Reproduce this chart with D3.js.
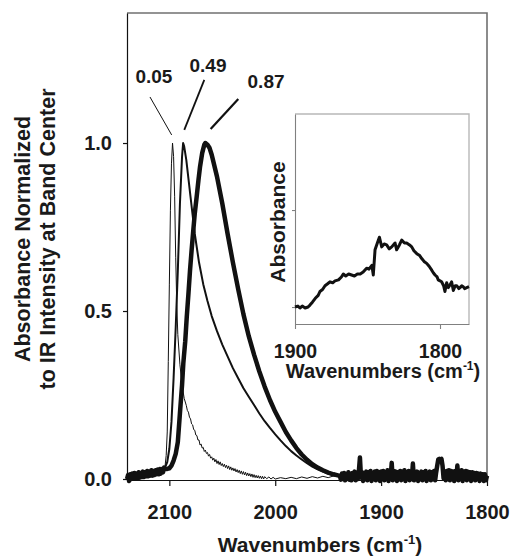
<!DOCTYPE html>
<html>
<head>
<meta charset="utf-8">
<script src="https://cdn.jsdelivr.net/npm/d3@7"></script>
<style>
  body { margin: 0; background: #fff; }
  svg { display: block; }
  text { font-family: "Liberation Sans", Arial, sans-serif; font-weight: bold; fill: #1a1a1a; }
</style>
</head>
<body>
<div id="chart"></div>
<script>
const width = 512;
const height = 556;

// main panel: normalized absorbance vs wavenumber (cm-1)
const xTicks = [2100, 2000, 1900, 1800];
const yTicks = [0, 0.5, 1.0];

// shared noisy baseline, high-wavenumber side
const headNoise = [
  [2140, 0.000], [2139, 0.012], [2138, -0.006], [2137, 0.014], [2136, 0.000], [2135, 0.016],
  [2134, 0.002], [2133, 0.018], [2132, 0.004], [2131, 0.016], [2130, 0.002], [2129, 0.020],
  [2128, 0.004], [2127, 0.018], [2126, 0.006], [2125, 0.022], [2124, 0.006], [2123, 0.020],
  [2122, 0.008], [2121, 0.024], [2120, 0.008], [2119, 0.022], [2118, 0.010], [2117, 0.026],
  [2116, 0.010], [2115, 0.024], [2114, 0.012], [2113, 0.026], [2112, 0.014], [2111, 0.028],
  [2110, 0.014], [2109, 0.030], [2108, 0.016], [2107, 0.030], [2106, 0.020], [2105, 0.034]
];

// shared noisy baseline, low-wavenumber side
const tailNoise = [
  [1939, 0.010], [1938, -0.002], [1937, 0.016], [1936, 0.000], [1935, 0.018], [1934, -0.004],
  [1933, 0.014], [1932, 0.002], [1931, 0.020], [1930, -0.002], [1929, 0.016], [1928, -0.004],
  [1927, 0.018], [1926, 0.002], [1925, 0.022], [1924, -0.004], [1923, 0.016], [1922, 0.000],
  [1921, 0.024], [1920, 0.064], [1919, 0.004], [1918, 0.020], [1917, -0.006], [1916, 0.018],
  [1915, 0.000], [1914, 0.022], [1913, -0.004], [1912, 0.020], [1911, 0.002], [1910, 0.024],
  [1909, -0.006], [1908, 0.018], [1907, 0.000], [1906, 0.022], [1905, -0.004], [1904, 0.024],
  [1903, 0.002], [1902, 0.020], [1901, -0.006], [1900, 0.022], [1899, 0.000], [1898, 0.024],
  [1897, -0.004], [1896, 0.018], [1895, 0.002], [1894, 0.026], [1893, -0.006], [1892, 0.022],
  [1891, 0.004], [1890, 0.048], [1889, -0.004], [1888, 0.024], [1887, 0.000], [1886, 0.022],
  [1885, -0.006], [1884, 0.020], [1883, 0.002], [1882, 0.024], [1881, -0.004], [1880, 0.022],
  [1879, 0.000], [1878, 0.026], [1877, -0.006], [1876, 0.020], [1875, 0.002], [1874, 0.024],
  [1873, -0.004], [1872, 0.022], [1871, 0.000], [1870, 0.046], [1869, -0.004], [1868, 0.020],
  [1867, 0.000], [1866, 0.022], [1865, -0.006], [1864, 0.018], [1863, 0.002], [1862, 0.022],
  [1861, -0.004], [1860, 0.020], [1859, 0.000], [1858, 0.024], [1857, -0.006], [1856, 0.018],
  [1855, 0.002], [1854, 0.022], [1853, -0.004], [1852, 0.020], [1851, 0.000], [1850, 0.024],
  [1849, -0.004], [1848, 0.020], [1847, 0.040], [1846, 0.058], [1845, 0.060], [1844, 0.058],
  [1843, 0.060], [1842, 0.040], [1841, 0.002], [1840, 0.022], [1839, -0.004], [1838, 0.024],
  [1837, 0.000], [1836, 0.026], [1835, -0.004], [1834, 0.024], [1833, 0.002], [1832, 0.022],
  [1831, -0.006], [1830, 0.024], [1829, 0.000], [1828, 0.040], [1827, -0.004], [1826, 0.024],
  [1825, 0.002], [1824, 0.026], [1823, -0.006], [1822, 0.022], [1821, 0.000], [1820, 0.024],
  [1819, -0.004], [1818, 0.022], [1817, 0.002], [1816, 0.020], [1815, -0.006], [1814, 0.020],
  [1813, 0.000], [1812, 0.018], [1811, -0.004], [1810, 0.018], [1809, 0.000], [1808, 0.016],
  [1807, -0.006], [1806, 0.016], [1805, 0.000], [1804, 0.014], [1803, -0.006], [1802, 0.014],
  [1801, -0.004], [1800, 0.010]
];

// coverage 0.05 (thin)
const band005 = [
  [2104, 0.040], [2103, 0.070], [2102, 0.140], [2101, 0.350], [2100, 0.580], [2099, 0.800],
  [2098, 0.940], [2097, 1.000], [2096, 0.960], [2095, 0.840], [2094, 0.660], [2093, 0.520],
  [2092, 0.430], [2090, 0.340], [2088, 0.280], [2086, 0.240],
  [2084, 0.219], [2083, 0.204], [2082, 0.199], [2081, 0.184], [2080, 0.179], [2079, 0.164],
  [2078, 0.161], [2077, 0.147], [2076, 0.145], [2075, 0.131], [2074, 0.129], [2073, 0.116],
  [2072, 0.116], [2071, 0.101], [2070, 0.104], [2069, 0.092], [2068, 0.094], [2067, 0.082],
  [2066, 0.086], [2065, 0.076], [2064, 0.079], [2063, 0.068], [2062, 0.073], [2061, 0.062],
  [2060, 0.066], [2059, 0.056], [2058, 0.062], [2057, 0.051], [2056, 0.058], [2055, 0.046],
  [2054, 0.054], [2053, 0.043], [2052, 0.051], [2051, 0.040], [2050, 0.046], [2049, 0.037],
  [2048, 0.044], [2047, 0.034], [2046, 0.041], [2045, 0.031], [2044, 0.039], [2043, 0.028],
  [2042, 0.036], [2041, 0.026], [2040, 0.033], [2039, 0.024], [2038, 0.031], [2037, 0.021],
  [2036, 0.028], [2035, 0.019], [2034, 0.026], [2033, 0.016], [2032, 0.024], [2031, 0.014],
  [2030, 0.022], [2029, 0.012], [2028, 0.020], [2027, 0.010], [2026, 0.018], [2025, 0.009],
  [2024, 0.016], [2023, 0.007], [2022, 0.015], [2021, 0.005], [2020, 0.013], [2019, 0.004],
  [2018, 0.011], [2017, 0.003], [2016, 0.010], [2015, 0.002], [2014, 0.009], [2013, 0.001],
  [2012, 0.008], [2011, 0.000], [2010, 0.007], [2008, 0.001], [2006, 0.006], [2004, 0.000],
  [2002, 0.005], [2000, 0.000], [1995, 0.004], [1990, 0.001], [1985, 0.005], [1980, 0.001],
  [1975, 0.006], [1970, 0.002], [1965, 0.007], [1960, 0.003], [1955, 0.008], [1950, 0.004],
  [1945, 0.009]
];

// coverage 0.49 (medium)
const band049 = [
  [2104, 0.035], [2102, 0.050], [2100, 0.090], [2098, 0.170], [2096, 0.300], [2094, 0.450],
  [2092, 0.620], [2090, 0.820], [2088, 0.960], [2087, 1.000], [2086, 0.990], [2084, 0.950],
  [2082, 0.895], [2080, 0.840], [2078, 0.785], [2076, 0.730], [2072, 0.645], [2068, 0.580],
  [2064, 0.530], [2060, 0.485], [2055, 0.440], [2050, 0.400], [2045, 0.365], [2040, 0.330],
  [2035, 0.300], [2030, 0.270], [2025, 0.245], [2020, 0.220], [2015, 0.195], [2010, 0.172],
  [2005, 0.152], [2000, 0.133], [1995, 0.115], [1990, 0.098], [1985, 0.083], [1980, 0.070],
  [1975, 0.058], [1970, 0.047], [1965, 0.037], [1960, 0.029], [1955, 0.022], [1950, 0.016],
  [1945, 0.011], [1940, 0.008]
];

// coverage 0.87 (thick)
const band087 = [
  [2104, 0.030], [2102, 0.030], [2100, 0.032], [2098, 0.040], [2096, 0.055], [2094, 0.075],
  [2092, 0.110], [2090, 0.196], [2088, 0.280], [2086.8, 0.345], [2085, 0.410], [2083.6, 0.480],
  [2082, 0.550], [2080.5, 0.620], [2079, 0.680], [2077.4, 0.740], [2076, 0.790], [2074.2, 0.840],
  [2072.5, 0.890], [2071, 0.930], [2069, 0.970], [2067, 0.995], [2066, 1.000], [2064, 0.995],
  [2062, 0.985], [2060, 0.965], [2055, 0.900], [2050, 0.820], [2045, 0.730], [2040, 0.645],
  [2035, 0.565], [2030, 0.490], [2025, 0.425], [2020, 0.370], [2015, 0.320], [2010, 0.275],
  [2005, 0.235], [2000, 0.200], [1995, 0.170], [1990, 0.140], [1985, 0.115], [1980, 0.092],
  [1975, 0.073], [1970, 0.057], [1965, 0.044], [1960, 0.034], [1955, 0.026], [1950, 0.019],
  [1945, 0.014], [1940, 0.010]
];

const coverages = ["0.05", "0.49", "0.87"];
const strokeWidths = [1, 2, 4.5];
// label anchor and leader line ends, in data units (wavenumber, absorbance)
const labelPos = [[2114.6, 1.179], [2063.5, 1.211], [2008.7, 1.164]];
const leaderFrom = [[2118.3, 1.137], [2067.0, 1.188], [2034.9, 1.131]];
const leaderTo = [[2097.8, 1.024], [2085.9, 1.039], [2061.0, 1.042]];
const leaderWidths = [1, 1.8, 2.2];

// inset: weak band near 1840 cm-1, arbitrary absorbance units
const insetTicksX = [1900, 1800];
const insetTicksY = [0, 1];
const insetBand = [
  [1900, 0.00], [1898, 0.01], [1896.6, -0.01], [1895, 0.01], [1893, -0.01], [1891, 0.00],
  [1889.7, 0.02], [1888, 0.05], [1886, 0.09], [1884, 0.12], [1882.8, 0.16], [1881, 0.18],
  [1879.3, 0.22], [1877.5, 0.24], [1875.9, 0.26], [1874, 0.25], [1872.4, 0.27], [1870, 0.28],
  [1868, 0.31], [1866.7, 0.34], [1865, 0.32], [1863, 0.34], [1861, 0.33], [1859, 0.32],
  [1857, 0.34], [1855, 0.34], [1853, 0.36], [1850.6, 0.40], [1849, 0.39], [1847, 0.43],
  [1846, 0.33], [1844.8, 0.59], [1843.2, 0.66], [1841.8, 0.72], [1840.2, 0.62], [1838.5, 0.65],
  [1836.8, 0.64], [1835, 0.60], [1833.3, 0.62], [1831, 0.66], [1829.9, 0.59], [1828, 0.64],
  [1826.4, 0.69], [1824.5, 0.66], [1823, 0.66], [1821, 0.64], [1819.5, 0.62], [1818, 0.58],
  [1816, 0.55], [1814, 0.53], [1812.6, 0.50], [1811, 0.47], [1809.2, 0.45], [1807.5, 0.42],
  [1805.7, 0.38], [1804.5, 0.35], [1803.4, 0.33], [1802, 0.31], [1801.2, 0.28], [1800, 0.27],
  [1798.9, 0.26], [1797.5, 0.22], [1796.6, 0.16], [1795.4, 0.25], [1794.3, 0.20], [1793, 0.23],
  [1792, 0.26], [1790.8, 0.17], [1789.5, 0.22], [1788.5, 0.22], [1787, 0.19], [1786.2, 0.20],
  [1785, 0.22], [1784, 0.21], [1783, 0.19], [1781.6, 0.20], [1780, 0.21]
];

const series = [
  headNoise.concat(band005, tailNoise),
  headNoise.concat(band049, tailNoise),
  headNoise.concat(band087, tailNoise)
];

const svg = d3.select("#chart").append("svg")
  .attr("width", width)
  .attr("height", height);

const x = d3.scaleLinear().domain([2140, 1800]).range([127, 487]);
const y = d3.scaleLinear().domain([0, 1.387]).range([479, 13]);

// frame (top and right sides are gray)
svg.append("path")
  .attr("d", `M${x(2140)},${y(1.387)}H${x(1800)}V${y(0) + 1}`)
  .attr("fill", "none")
  .attr("stroke", "#707070")
  .attr("stroke-width", 1.6);

const line = d3.line()
  .x(d => x(d[0]))
  .y(d => y(d[1]));

svg.append("g")
  .selectAll("path")
  .data(series)
  .join("path")
  .attr("d", line)
  .attr("fill", "none")
  .attr("stroke", "#111")
  .attr("stroke-width", (d, i) => strokeWidths[i])
  .attr("stroke-linejoin", "round");

// axes
const yAxis = svg.append("g")
  .attr("transform", `translate(${x(2140)},0)`)
  .call(d3.axisLeft(y).tickValues(yTicks).tickFormat(d3.format(".1f"))
    .tickSize(4).tickSizeOuter(0).tickPadding(11));

const xAxis = svg.append("g")
  .attr("transform", `translate(0,${y(0) + 1})`)
  .call(d3.axisBottom(x).tickValues(xTicks).tickFormat(d3.format("d"))
    .tickSize(6).tickSizeOuter(0).tickPadding(19));

[yAxis, xAxis].forEach(g => {
  g.selectAll("path, line").attr("stroke", "#111").attr("stroke-width", 1.2);
  g.selectAll("text").attr("font-size", 20).attr("fill", "#1a1a1a");
});

// axis titles
svg.append("text")
  .attr("x", 320)
  .attr("y", 552)
  .attr("text-anchor", "middle")
  .attr("font-size", 21)
  .call(t => {
    t.append("tspan").text("Wavenumbers (cm");
    t.append("tspan").attr("font-size", 13).attr("dy", -8).text("-1");
    t.append("tspan").attr("dy", 8).text(")");
  });

const yTitle = ["Absorbance Normalized", "to IR Intensity at Band Center"];
svg.append("g")
  .selectAll("text")
  .data(yTitle)
  .join("text")
  .attr("transform", (d, i) => `translate(${i ? 55 : 30},239) rotate(-90)`)
  .attr("text-anchor", "middle")
  .attr("font-size", 21.5)
  .text(d => d);

// coverage labels with leader lines
svg.append("g")
  .selectAll("line")
  .data(coverages)
  .join("line")
  .attr("x1", (d, i) => x(leaderFrom[i][0]))
  .attr("y1", (d, i) => y(leaderFrom[i][1]))
  .attr("x2", (d, i) => x(leaderTo[i][0]))
  .attr("y2", (d, i) => y(leaderTo[i][1]))
  .attr("stroke", "#111")
  .attr("stroke-width", (d, i) => leaderWidths[i]);

svg.append("g")
  .selectAll("text")
  .data(coverages)
  .join("text")
  .attr("x", (d, i) => x(labelPos[i][0]))
  .attr("y", (d, i) => y(labelPos[i][1]))
  .attr("text-anchor", "middle")
  .attr("font-size", 19)
  .text(d => d);

// inset
const ix = d3.scaleLinear().domain([1900, 1780]).range([295, 469]);
const iy = d3.scaleLinear().domain([-0.175, 1.99]).range([324, 114]);

const inset = svg.append("g");

inset.append("rect")
  .attr("x", ix(1900))
  .attr("y", iy(1.99))
  .attr("width", ix(1780) - ix(1900))
  .attr("height", iy(-0.175) - iy(1.99))
  .attr("fill", "#fff");

inset.append("path")
  .attr("d", `M${ix(1900)},${iy(1.99)}H${ix(1780)}V${iy(-0.175)}`)
  .attr("fill", "none")
  .attr("stroke", "#b8b8b8")
  .attr("stroke-width", 1.4);

const iyAxis = inset.append("g")
  .attr("transform", `translate(${ix(1900)},0)`)
  .call(d3.axisLeft(iy).tickValues(insetTicksY).tickFormat("").tickSize(3).tickSizeOuter(0));

const ixAxis = inset.append("g")
  .attr("transform", `translate(0,${iy(-0.175)})`)
  .call(d3.axisBottom(ix).tickValues(insetTicksX).tickFormat(d3.format("d"))
    .tickSize(5).tickSizeOuter(0).tickPadding(15));

[iyAxis, ixAxis].forEach(g => {
  g.selectAll("path, line").attr("stroke", "#808080").attr("stroke-width", 1.1);
  g.selectAll("text").attr("font-size", 19.5).attr("fill", "#1a1a1a");
});

const insetLine = d3.line()
  .x(d => ix(d[0]))
  .y(d => iy(d[1]));

inset.append("path")
  .datum(insetBand)
  .attr("d", insetLine)
  .attr("fill", "none")
  .attr("stroke", "#111")
  .attr("stroke-width", 3)
  .attr("stroke-linejoin", "round");

inset.append("text")
  .attr("transform", "translate(285,222) rotate(-90)")
  .attr("text-anchor", "middle")
  .attr("font-size", 21)
  .text("Absorbance");

inset.append("text")
  .attr("x", 383)
  .attr("y", 378)
  .attr("text-anchor", "middle")
  .attr("font-size", 20)
  .call(t => {
    t.append("tspan").text("Wavenumbers (cm");
    t.append("tspan").attr("font-size", 12).attr("dy", -8).text("-1");
    t.append("tspan").attr("dy", 8).text(")");
  });
</script>
</body>
</html>
